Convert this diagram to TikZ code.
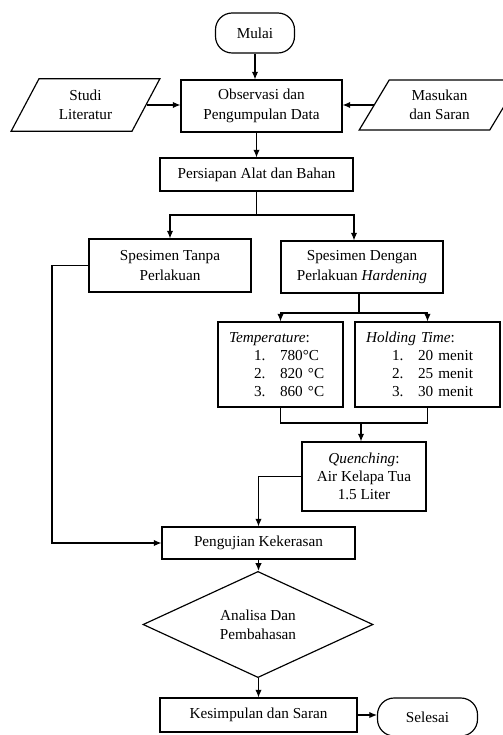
\documentclass[tikz,border=0pt]{standalone}
\usepackage{fontspec}
\setmainfont{Liberation Serif}
\usetikzlibrary{arrows.meta,shapes.geometric}

\begin{document}
\begin{tikzpicture}%
	[x={(0.03cm,0cm)},
	y={(0cm,-0.03cm)},
	edge/.style={draw=black, line width=1pt},
	arrow/.style={edge, -{Latex[length=6.5pt,width=5.5pt]}},
	box/.style={rectangle, draw=black, line width=1pt, inner sep=0pt, align=center, font=\fontsize{13}{16.5}\selectfont},
	terminal/.style={box, rounded corners=0.5cm},
	io/.style={box, trapezium, trapezium left angle=62, trapezium right angle=118},
	decision/.style={box, diamond},
	listbox/.style={box, align=left, inner xsep=0.33cm, font=\fontsize{13}{15.5}\selectfont}]
%
\useasboundingbox (0,0) rectangle (502,735);
%
%% Coordinate of the bends:
%%
\coordinate (split1) at (256.5,215);
\coordinate (split1r) at (354,215);
\coordinate (loopL) at (52,543);
\coordinate (split2) at (359,313);
\coordinate (merge) at (361,423);
%%
%%
%% Drawing the boxes
%%
\node[terminal, minimum width=2.37cm, minimum height=1.2cm] (mulai) at (255,33) {Mulai};
\node[box, minimum width=4.83cm, minimum height=1.56cm] (obs) at (261.5,106) {Observasi dan\\Pengumpulan Data};
\node[io, minimum width=4.47cm, minimum height=1.5cm] (studi) at (85.5,105) {Studi\\Literatur};
\node[io, trapezium left angle=59, trapezium right angle=121, minimum width=4.53cm, minimum height=1.5cm] (masukan) at (439.5,105) {Masukan\\dan Saran};
\node[box, minimum width=5.79cm, minimum height=0.99cm] (persiapan) at (256.5,174.5) {Persiapan Alat dan Bahan};
\node[box, minimum width=4.86cm, minimum height=1.59cm] (tanpa) at (170,265.5) {Spesimen Tanpa\\Perlakuan};
\node[box, minimum width=4.86cm, minimum height=1.56cm] (dengan) at (362,267) {Spesimen Dengan\\Perlakuan \textit{Hardening}};
\node[listbox, text width=3.09cm, minimum height=2.55cm] (temp) at (280.5,364.5) {\textit{Temperature}:\\
	\hspace*{0.75cm}\makebox[0.78cm][l]{1.}780°C\\
	\hspace*{0.75cm}\makebox[0.78cm][l]{2.}820 °C\\
	\hspace*{0.75cm}\makebox[0.78cm][l]{3.}860 °C};
\node[listbox, text width=3.69cm, minimum height=2.55cm] (hold) at (427.5,364.5) {\textit{Holding Time}:\\
	\hspace*{0.78cm}\makebox[0.78cm][l]{1.}20 menit\\
	\hspace*{0.78cm}\makebox[0.78cm][l]{2.}25 menit\\
	\hspace*{0.78cm}\makebox[0.78cm][l]{3.}30 menit};
\node[box, font=\fontsize{13}{15.5}\selectfont, minimum width=3.72cm, minimum height=2.07cm] (quench) at (364,476.5) {\textit{Quenching}:\\Air Kelapa Tua\\1.5 Liter};
\node[box, minimum width=5.79cm, minimum height=0.96cm] (uji) at (258.5,543) {Pengujian Kekerasan};
\node[decision, minimum width=6.9cm, minimum height=3.03cm] (analisa) at (258,624.5) {Analisa Dan\\Pembahasan};
\node[box, minimum width=5.91cm, minimum height=1.02cm] (kesimpulan) at (258.5,715) {Kesimpulan dan Saran};
\node[terminal, minimum width=3cm, minimum height=1.14cm] (selesai) at (427.5,717) {Selesai};
%%
%%
%% Drawing the connectors
%%
\draw[arrow] (mulai.south) -- (mulai.south |- obs.north);
\draw[arrow] (studi.east) -- (studi.east -| obs.west);
\draw[arrow] (masukan.west) -- (masukan.west -| obs.east);
\draw[arrow] (persiapan.north |- obs.south) -- (persiapan.north);
\draw[edge] (persiapan.south) -- (split1);
\draw[arrow] (split1) -| (tanpa.north);
\draw[arrow] (split1) -- (split1r) -- (split1r |- dengan.north);
\draw[arrow] (tanpa.west) -- (tanpa.west -| loopL) -- (loopL) -- (uji.west);
\draw[edge] (split2 |- dengan.south) -- (split2);
\draw[arrow] (split2) -| (temp.north);
\draw[arrow] (split2) -| (hold.north);
\draw[edge] (temp.south) |- (merge);
\draw[edge] (hold.south) |- (merge);
\draw[arrow] (merge) -- (merge |- quench.north);
\draw[arrow] (quench.west) -| (uji.north);
\draw[arrow] (uji.south) -- (uji.south |- analisa.north);
\draw[arrow] (kesimpulan.north |- analisa.south) -- (kesimpulan.north);
\draw[arrow] (kesimpulan.east) -- (kesimpulan.east -| selesai.west);
%%
%%
\end{tikzpicture}
\end{document}
